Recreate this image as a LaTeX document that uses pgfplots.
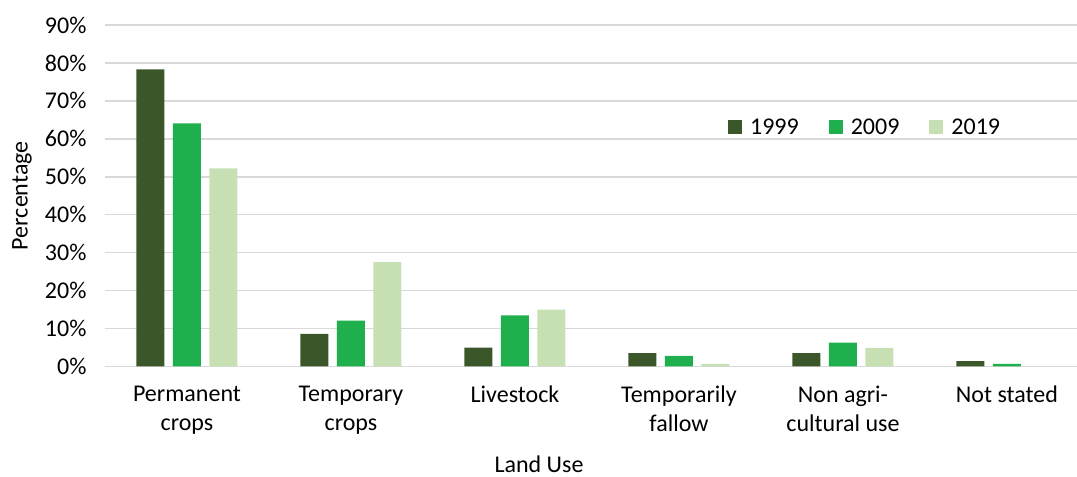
\documentclass[border=0pt]{standalone}
\usepackage{pgfplots}
\pgfplotsset{compat=1.18}
\usepackage{fontspec}
\setmainfont{Carlito}

\definecolor{c1999}{RGB}{59,87,42}
\definecolor{c2009}{RGB}{31,176,77}
\definecolor{c2019}{RGB}{198,224,180}
\definecolor{gridgray}{RGB}{217,217,217}

\begin{document}
\begin{tikzpicture}
\begin{axis}[
    name=ax,
    scale only axis,
    width=972bp,
    height=341.5bp,
    ybar=8.5bp,
    bar width=28bp,
    xmin=-0.5, xmax=5.427,
    ymin=0, ymax=90,
    enlargelimits=false,
    ytick={0,10,...,90},
    yticklabel={\pgfmathprintnumber{\tick}\%},
    /pgf/number format/assume math mode=true,
    xtick={0,...,5},
    xticklabels={{Permanent\\crops},{Temporary\\crops},Livestock,{Temporarily\\fallow},{Non agri-\\cultural use},{Not stated}},
    major tick length=0pt,
    axis line style={draw=none},
    ymajorgrids,
    grid style={draw=gridgray, line width=1.5bp},
    every tick label/.append style={font=\fontsize{24bp}{29bp}\selectfont},
    xticklabel style={align=center, anchor=north, yshift=-16bp},
    yticklabel style={anchor=east, xshift=-15bp},
    xlabel={Land Use},
    ylabel={Percentage},
    label style={font=\fontsize{24bp}{28bp}\selectfont},
    xlabel style={at={(axis description cs:0.4465,-0.285)}, anchor=center, inner sep=0pt},
    ylabel style={at={(axis description cs:-0.0854,0.5)}, anchor=center},
    legend columns=3,
    legend style={at={(0.782,0.70)}, anchor=center, draw=none, fill=none,
        font=\fontsize{24bp}{28bp}\selectfont,
        /tikz/every odd column/.append style={column sep=6bp},
        /tikz/every even column/.append style={column sep=28bp}},
    every axis plot post/.append style={
        legend image code/.code={\fill[##1] (0bp,-7bp) rectangle (14bp,7bp);}},
]
\addplot[fill=c1999, draw=none] coordinates {(0,78.3) (1,8.6) (2,5.0) (3,3.5) (4,3.5) (5,1.4)};
\addplot[fill=c2009, draw=none] coordinates {(0,64.1) (1,12.1) (2,13.5) (3,2.8) (4,6.3) (5,0.7)};
\addplot[fill=c2019, draw=none] coordinates {(0,52.2) (1,27.5) (2,15.0) (3,0.7) (4,4.9) (5,0)};
\legend{1999,2009,2019}
\end{axis}
\pgfresetboundingbox
\path[use as bounding box] ([shift={(-105bp,-110.5bp)}]ax.south west) rectangle ([shift={(0bp,25bp)}]ax.north east);
\end{tikzpicture}
\end{document}
